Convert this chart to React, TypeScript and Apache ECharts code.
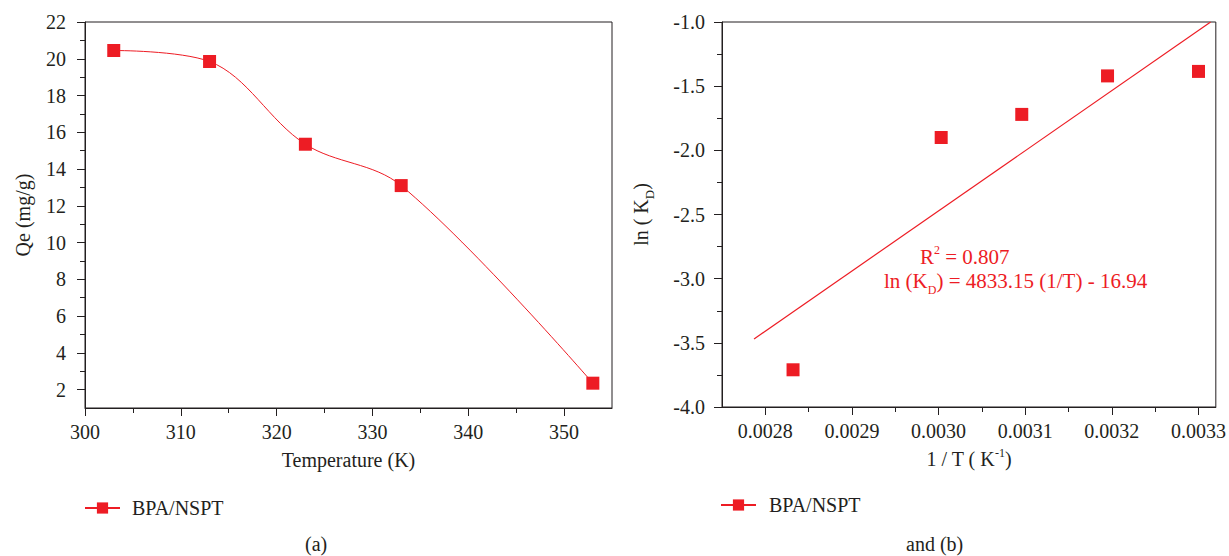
import React, { useEffect, useRef } from "react";
import * as echarts from "echarts";

// ---- data ----
const tempK = [303, 313, 323, 333, 353];
const qe = [20.45, 19.85, 15.35, 13.1, 2.35];

const invT = [0.002832, 0.003003, 0.003096, 0.003195, 0.0033];
const lnKD = [-3.71, -1.9, -1.72, -1.42, -1.385];

const fitX = [0.002787, 0.003314];
const fitY = [-3.47, -1.0];

const leftXTicks = [300, 310, 320, 330, 340, 350];
const leftXMinor = [305, 315, 325, 335, 345];
const leftYTicks = [2, 4, 6, 8, 10, 12, 14, 16, 18, 20, 22];
const leftYMinor = [3, 5, 7, 9, 11, 13, 15, 17, 19, 21];
const rightXTicks = [0.0028, 0.0029, 0.003, 0.0031, 0.0032, 0.0033];
const rightXMinor = [0.00285, 0.00295, 0.00305, 0.00315, 0.00325];

const seriesName = "BPA/NSPT";
const RED = "#ed1c24";
const INK = "#231f20";
const FONT = "'Liberation Serif', 'DejaVu Serif', serif";
const FS = 20;

export default function App() {
  const ref = useRef<HTMLDivElement>(null);
  useEffect(() => {
    document.body.style.margin = "0";
    const chart = echarts.init(ref.current!, undefined, { renderer: "svg" });
    const lbl = { color: INK, fontSize: FS, fontFamily: FONT };
    const axLine = { show: true, lineStyle: { color: INK, width: 1 } };
    const minorAxis = (gridIndex: number, position: string, min: number, max: number, vals: number[]) => ({
      type: "value",
      gridIndex,
      position,
      offset: 0,
      min,
      max,
      axisLine: { show: false },
      axisTick: { show: true, customValues: vals, length: 5, lineStyle: { color: INK } },
      axisLabel: { show: false },
      splitLine: { show: false },
    });
    const option: any = {
      animation: false,
      textStyle: { fontFamily: FONT },
      grid: [
        { left: 85, top: 22, width: 527, height: 386, show: true, borderColor: INK, borderWidth: 1, backgroundColor: "transparent" },
        { left: 722, top: 22, right: -1, height: 385, show: true, borderColor: INK, borderWidth: 1, backgroundColor: "transparent" },
      ],
      xAxis: [
        {
          type: "value", gridIndex: 0, position: "bottom", min: 300, max: 355,
          axisLine: axLine,
          axisTick: { show: true, customValues: leftXTicks, length: 8, lineStyle: { color: INK } },
          axisLabel: { ...lbl, customValues: leftXTicks, margin: 14 },
          splitLine: { show: false },
          name: "Temperature (K)", nameLocation: "middle", nameGap: 42,
          nameTextStyle: { ...lbl },
        },
        minorAxis(0, "bottom", 300, 355, leftXMinor),
        {
          type: "value", gridIndex: 1, position: "bottom", min: 0.00275, max: 0.00332,
          axisLine: axLine,
          axisTick: { show: true, customValues: rightXTicks, length: 8, lineStyle: { color: INK } },
          axisLabel: { ...lbl, customValues: rightXTicks, margin: 14, formatter: (v: number) => v.toFixed(4) },
          splitLine: { show: false },
          name: "1 / T ( K{sup|-1})", nameLocation: "middle", nameGap: 40,
          nameTextStyle: { ...lbl, rich: { sup: { fontSize: 12, fontFamily: FONT, color: INK, verticalAlign: "top", padding: [0, 0, 12, 0] } } },
        },
        minorAxis(1, "bottom", 0.00275, 0.00332, rightXMinor),
      ],
      yAxis: [
        {
          type: "value", gridIndex: 0, position: "left", min: 1, max: 22,
          axisLine: axLine,
          axisTick: { show: true, customValues: leftYTicks, length: 8, lineStyle: { color: INK } },
          axisLabel: { ...lbl, customValues: leftYTicks, margin: 19 },
          splitLine: { show: false },
          name: "Qe (mg/g)", nameLocation: "middle", nameGap: 52,
          nameTextStyle: { ...lbl },
        },
        minorAxis(0, "left", 1, 22, leftYMinor),
        {
          type: "value", gridIndex: 1, position: "left", min: -4, max: -1, interval: 0.5,
          axisLine: axLine,
          axisTick: { show: true, length: 8, lineStyle: { color: INK } },
          minorTick: { show: true, splitNumber: 2, length: 5, lineStyle: { color: INK } },
          axisLabel: { ...lbl, margin: 17, formatter: (v: number) => v.toFixed(1) },
          splitLine: { show: false },
          minorSplitLine: { show: false },
          name: "ln ( K{sub|D})", nameLocation: "middle", nameGap: 66,
          nameTextStyle: { ...lbl, rich: { sub: { fontSize: 13, fontFamily: FONT, color: INK, verticalAlign: "bottom", padding: [18, 0, 0, 0] } } },
        },
      ],
      legend: [
        {
          left: 84, top: 498, padding: 0, data: [seriesName], itemWidth: 35, itemHeight: 14,
          textStyle: { ...lbl, padding: [0, 0, 0, 7] }, selectedMode: false,
        },
        {
          left: 720, top: 495, padding: 0, data: [seriesName], itemWidth: 35, itemHeight: 14,
          textStyle: { ...lbl, padding: [0, 0, 0, 8] }, selectedMode: false,
        },
      ],
      series: [
        {
          name: seriesName, type: "line", xAxisIndex: 0, yAxisIndex: 0,
          data: tempK.map((t, i) => [t, qe[i]]),
          smooth: 0.35, symbol: "rect", symbolSize: 13,
          itemStyle: { color: RED }, lineStyle: { color: RED, width: 1 },
        },
        {
          name: "lnKD", type: "scatter", xAxisIndex: 2, yAxisIndex: 2,
          data: invT.map((t, i) => [t, lnKD[i]]),
          symbol: "rect", symbolSize: 13, itemStyle: { color: RED, opacity: 1 },
        },
        {
          name: "fit", type: "line", xAxisIndex: 2, yAxisIndex: 2,
          data: fitX.map((t, i) => [t, fitY[i]]),
          symbol: "none", showSymbol: false, lineStyle: { color: RED, width: 1.2 },
        },
      ],
      graphic: [
        {
          type: "text", left: 920, top: 244,
          style: {
            text: "R{sup|2} = 0.807", fill: RED, fontSize: 21, fontFamily: FONT,
            rich: { sup: { fontSize: 12, fontFamily: FONT, fill: RED, verticalAlign: "top", padding: [0, 0, 13, 0] } },
          },
        },
        {
          type: "text", left: 884, top: 270,
          style: {
            text: "ln (K{sub|D}) = 4833.15 (1/T) - 16.94", fill: RED, fontSize: 21, fontFamily: FONT,
            rich: { sub: { fontSize: 12, fontFamily: FONT, fill: RED, verticalAlign: "bottom", padding: [19, 0, 0, 0] } },
          },
        },
        {
          type: "text", left: 305, top: 534, style: { text: "(a)", fill: INK, fontSize: FS, fontFamily: FONT },
        },
        {
          type: "text", left: 906, top: 534, style: { text: "and (b)", fill: INK, fontSize: FS, fontFamily: FONT },
        },
      ],
    };
    chart.setOption(option);
    return () => chart.dispose();
  }, []);
  return <div ref={ref} style={{ position: "absolute", left: 0, top: 0, width: 1229, height: 556 }} />;
}
